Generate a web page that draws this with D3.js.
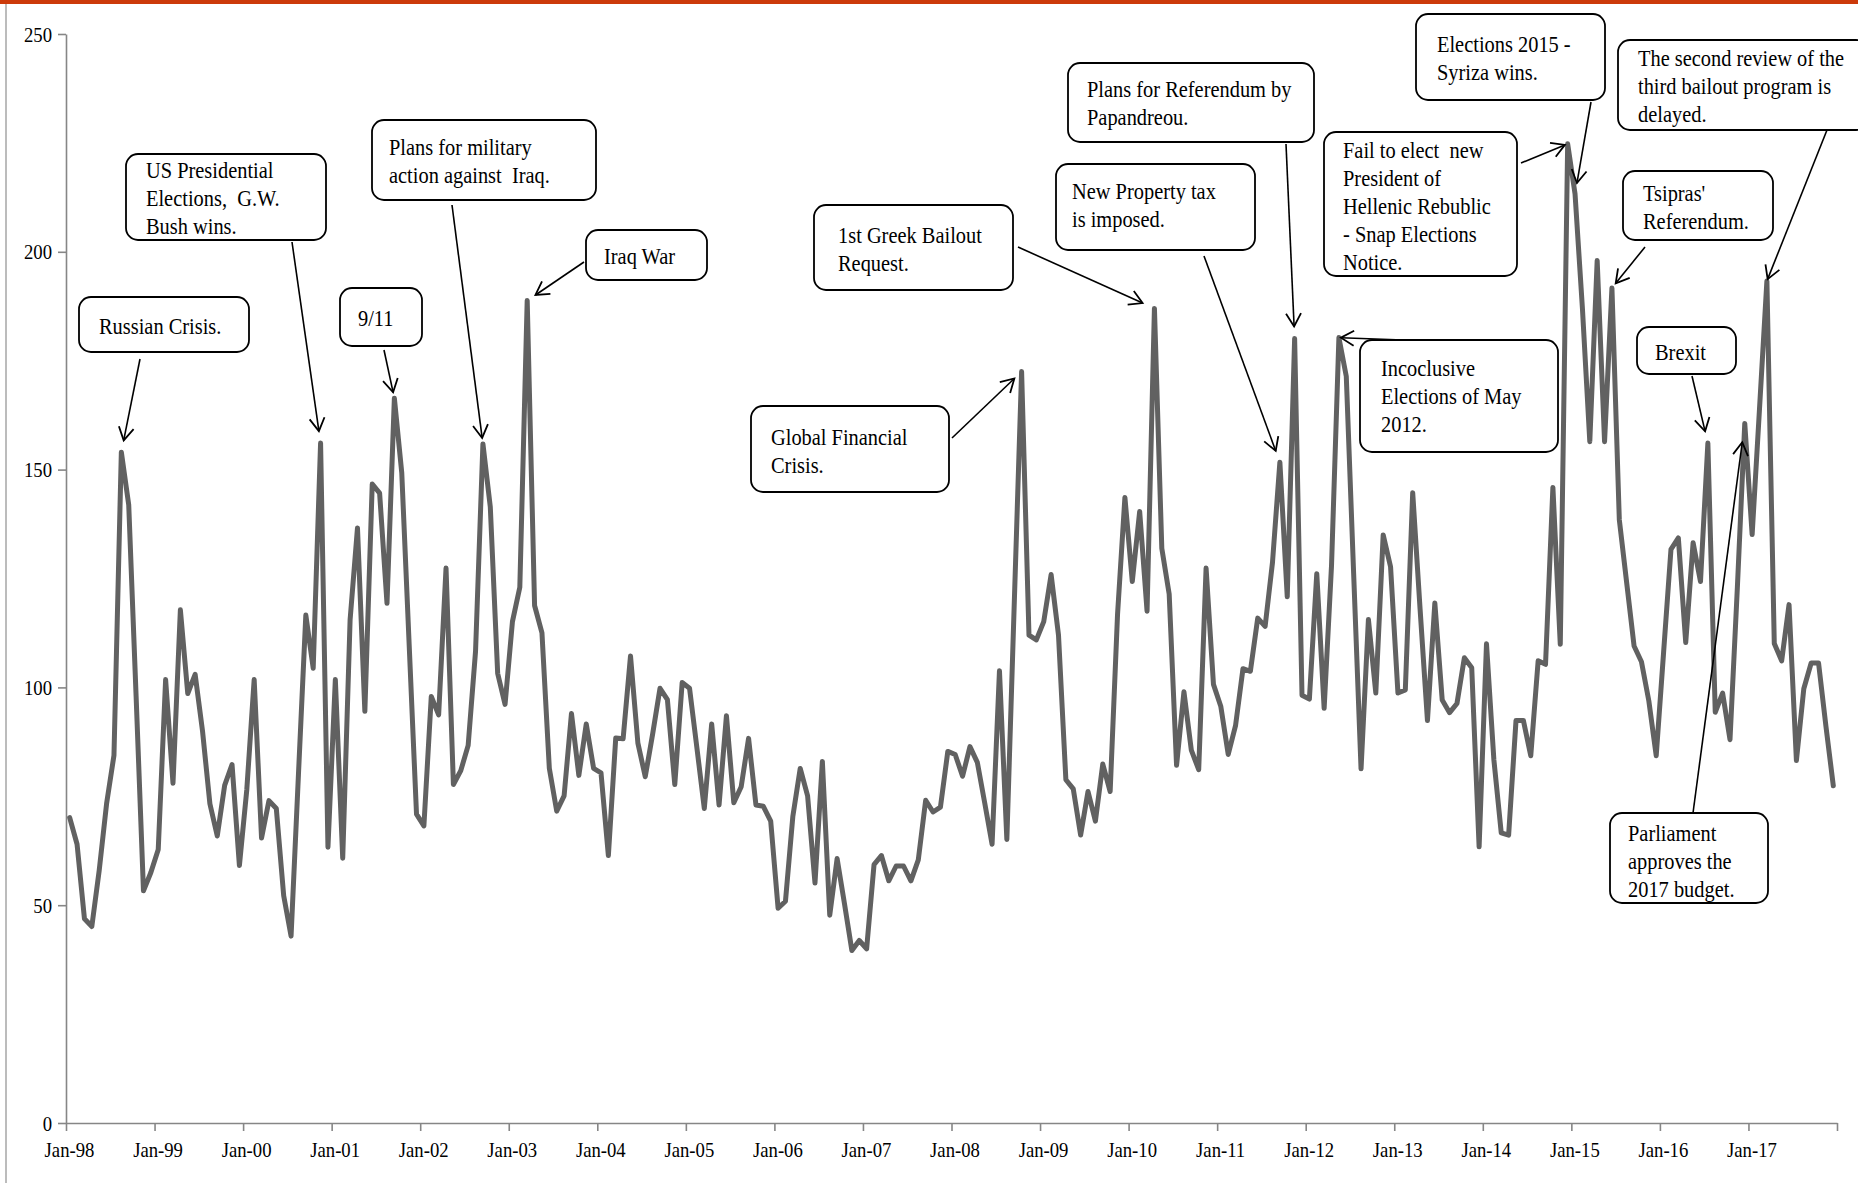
<!DOCTYPE html>
<html>
<head>
<meta charset="utf-8">
<script src="https://cdn.jsdelivr.net/npm/d3@7"></script>
<style>
  body { margin: 0; background: #fff; }
  svg { display: block; }
  text { font-family: "Liberation Serif", "Times New Roman", serif; fill: #000; }
</style>
</head>
<body>
<svg id="chart" width="1858" height="1183"></svg>
<script>
// monthly index, Jan-98 .. Dec-17
const tickLabels = ["Jan-98", "Jan-99", "Jan-00", "Jan-01", "Jan-02", "Jan-03", "Jan-04",
  "Jan-05", "Jan-06", "Jan-07", "Jan-08", "Jan-09", "Jan-10", "Jan-11", "Jan-12",
  "Jan-13", "Jan-14", "Jan-15", "Jan-16", "Jan-17"];

const yTicks = [0, 50, 100, 150, 200, 250];

const values = [
  70.1, 64.0, 46.9, 45.1, 58.0, 73.3, 84.4, 154.0, 141.9, 98, 53.3, 57.5,
  62.8, 101.8, 78.0, 117.8, 98.6, 103.0, 90, 73.3, 65.9, 77.5, 82.3, 59.1,
  76.5, 101.8, 65.4, 74.0, 72.2, 52.2, 42.9, 80, 116.6, 104.4, 156.1, 63.3,
  101.8, 60.8, 115.5, 136.6, 94.5, 146.7, 144.6, 119.3, 166.4, 149.3, 110, 70.9,
  68.2, 97.9, 93.7, 127.4, 77.7, 80.9, 86.7, 108.3, 155.9, 141.4, 103.2, 96.1,
  115.1, 123.0, 188.8, 118.8, 112.5, 81.4, 71.6, 75.1, 94.0, 79.8, 91.6, 81.4,
  80.4, 61.4, 88.4, 88.2, 107.2, 87.2, 79.5, 89.3, 99.8, 97.2, 77.7, 101.1,
  99.8, 86.1, 72.2, 91.6, 73.0, 93.5, 73.5, 77.2, 88.3, 73.0, 72.7, 69.3,
  49.3, 50.9, 70.4, 81.4, 75.1, 55.1, 83.0, 47.7, 60.7, 50.3, 39.6, 41.9,
  40.0, 59.3, 61.4, 55.6, 59.0, 59.0, 55.6, 60.4, 74.1, 71.4, 72.5, 85.3,
  84.6, 79.6, 86.4, 82.8, 73.5, 64.0, 103.8, 65.1, 119, 172.5, 112.0, 110.9,
  115.1, 125.9, 112.0, 78.8, 76.7, 66.1, 76.1, 69.3, 82.4, 76.1, 116.7, 143.6,
  124.3, 140.4, 117.5, 187.0, 131.9, 121.4, 82.1, 99.0, 85.6, 81.1, 127.4, 100.7,
  95.6, 84.6, 91.3, 104.3, 103.7, 115.9, 114.0, 128.7, 151.7, 120.8, 180.1, 98.2,
  97.3, 126.1, 95.2, 128, 180.3, 171.4, 126, 81.3, 115.6, 98.7, 135.0, 127.7,
  98.7, 99.4, 144.7, 118, 92.4, 119.4, 97.1, 94.2, 96.3, 106.8, 104.5, 63.4,
  110.0, 83.4, 66.6, 66.1, 92.4, 92.4, 84.3, 106.1, 105.3, 145.9, 109.9, 224.8,
  213.3, 187, 156.4, 198.0, 156.4, 191.7, 138.5, 124, 109.5, 105.9, 96.9, 84.3,
  108, 131.7, 134.3, 110.3, 133.2, 124.3, 156.1, 94.3, 98.7, 88.0, 123, 160.6,
  135.1, 164, 193.3, 110.1, 106.1, 119.0, 83.2, 99.7, 105.6, 105.6, 91.1, 77.4
];

// annotation texts and the month each one points at
const noteLines = [
  ["Russian Crisis."],
  ["US Presidential", "Elections,  G.W.", "Bush wins."],
  ["9/11"],
  ["Plans for military", "action against  Iraq."],
  ["Iraq War"],
  ["1st Greek Bailout", "Request."],
  ["Global Financial", "Crisis."],
  ["Plans for Referendum by", "Papandreou."],
  ["New Property tax", "is imposed."],
  ["Fail to elect  new", "President of", "Hellenic Rebublic", "- Snap Elections", "Notice."],
  ["Elections 2015 -", "Syriza wins."],
  ["Incoclusive", "Elections of May", "2012."],
  ["The second review of the", "third bailout program is", "delayed."],
  ["Tsipras'", "Referendum."],
  ["Brexit"],
  ["Parliament", "approves the", "2017 budget."]
];
const noteMonths = [7, 34, 44, 56, 62, 147, 129, 166, 164, 203, 204, 172, 230, 209, 222, 227];

// where the callouts sit on the page
const noteLayout = [
  { box: [79, 297, 170, 55], tx: 99, ty: 326, from: [140, 359], gap: 12 },
  { box: [126, 154, 200, 86], tx: 146, ty: 170, from: [292, 242], gap: 12 },
  { box: [340, 288, 82, 58], tx: 358, ty: 318, from: [384, 350], gap: 6 },
  { box: [372, 120, 224, 80], tx: 389, ty: 147, from: [452, 205], gap: 6 },
  { box: [586, 230, 121, 50], tx: 604, ty: 256, from: [584, 262], gap: 10 },
  { box: [814, 205, 199, 85], tx: 838, ty: 235, from: [1018, 247], gap: 13 },
  { box: [751, 406, 198, 86], tx: 771, ty: 437, from: [952, 438], gap: 10 },
  { box: [1068, 63, 246, 79], tx: 1087, ty: 89, from: [1286, 144], gap: 12 },
  { box: [1056, 164, 199, 86], tx: 1072, ty: 191, from: [1204, 256], gap: 12 },
  { box: [1324, 132, 193, 144], tx: 1343, ty: 150, from: [1521, 163], gap: 3 },
  { box: [1416, 14, 189, 86], tx: 1437, ty: 44, from: [1591, 102], gap: 11 },
  { box: [1360, 340, 198, 112], tx: 1381, ty: 368, from: [1403, 340], gap: 2 },
  { box: [1618, 40, 250, 90], tx: 1638, ty: 58, from: [1827, 130], gap: 2 },
  { box: [1623, 171, 150, 69], tx: 1643, ty: 193, from: [1645, 247], gap: 6 },
  { box: [1637, 327, 99, 47], tx: 1655, ty: 352, from: [1692, 376], gap: 12 },
  { box: [1610, 813, 158, 90], tx: 1628, ty: 833, from: [1693, 813], gap: 19 }
];

const svg = d3.select("#chart");
const W = 1858, H = 1183;
const plotLeft = 66, plotRight = 1837, plotTop = 34, plotBottom = 1123;
const squeeze = 0.85;  // the source text is set narrower than plain Times

svg.append("rect").attr("width", W).attr("height", H).attr("fill", "#fff");
svg.append("rect").attr("width", W).attr("height", 4).attr("fill", "#cc3a0a");
svg.append("line")
  .attr("x1", 6).attr("x2", 6).attr("y1", 4).attr("y2", H)
  .attr("stroke", "#a6a6a6").attr("stroke-width", 1.5);

const x = d3.scaleLinear().domain([0, values.length]).range([plotLeft, plotRight]);
const y = d3.scaleLinear().domain([0, 250]).range([plotBottom, plotTop]);

const axisColor = "#868686";

const yAxis = svg.append("g")
  .attr("transform", `translate(${plotLeft},0)`)
  .call(d3.axisLeft(y).tickValues(yTicks).tickSize(8).tickSizeOuter(0).tickPadding(6));

const xAxis = svg.append("g")
  .attr("transform", `translate(0,${plotBottom})`)
  .call(d3.axisBottom(x)
    .tickValues(d3.range(0, values.length + 1, 12))
    .tickSize(8).tickSizeOuter(0).tickPadding(10)
    .tickFormat(d => tickLabels[d / 12] || ""));

[yAxis, xAxis].forEach(g => {
  g.select(".domain").attr("stroke", axisColor).attr("stroke-width", 1.6);
  g.selectAll(".tick line").attr("stroke", axisColor).attr("stroke-width", 1.6);
  g.selectAll(".tick text")
    .attr("fill", "#000")
    .style("font-family", '"Liberation Serif", "Times New Roman", serif')
    .style("font-size", "22px")
    .classed("cond", true);
});
xAxis.selectAll(".tick text").attr("x", 3);

const line = d3.line()
  .x((d, i) => x(i + 0.5))
  .y(d => y(d));

svg.append("path")
  .datum(values)
  .attr("d", line)
  .attr("fill", "none")
  .attr("stroke", "#616161")
  .attr("stroke-width", 5)
  .attr("stroke-linejoin", "round")
  .attr("stroke-linecap", "round");

// callouts
const notes = svg.append("g");
noteLines.forEach((lines, k) => {
  const L = noteLayout[k];
  const m = noteMonths[k];
  const px = x(m + 0.5), py = y(values[m]);
  const [sx, sy] = L.from;
  const dx = sx - px, dy = sy - py, len = Math.hypot(dx, dy);
  const tip = [px + dx / len * L.gap, py + dy / len * L.gap];
  const ux = (tip[0] - sx) / Math.hypot(tip[0] - sx, tip[1] - sy);
  const uy = (tip[1] - sy) / Math.hypot(tip[0] - sx, tip[1] - sy);
  const head = 15, ang = Math.PI / 6;
  const arm = a => [tip[0] - head * (ux * Math.cos(a) - uy * Math.sin(a)),
                    tip[1] - head * (ux * Math.sin(a) + uy * Math.cos(a))];

  notes.append("line")
    .attr("x1", sx).attr("y1", sy).attr("x2", tip[0]).attr("y2", tip[1])
    .attr("stroke", "#000").attr("stroke-width", 1.6);
  notes.append("path")
    .attr("d", d3.line()([arm(ang), tip, arm(-ang)]))
    .attr("fill", "none").attr("stroke", "#000").attr("stroke-width", 1.8);

  const [bx, by, bw, bh] = L.box;
  notes.append("rect")
    .attr("x", bx).attr("y", by).attr("width", bw).attr("height", bh)
    .attr("rx", 12).attr("ry", 12)
    .attr("fill", "#fff").attr("stroke", "#000").attr("stroke-width", 1.8);

  lines.forEach((t, j) => {
    notes.append("text")
      .attr("x", L.tx).attr("y", L.ty + j * 28)
      .attr("dy", "0.35em")
      .style("font-size", "24px")
      .attr("xml:space", "preserve")
      .classed("cond", true)
      .text(t);
  });
});

// narrow every text around its own anchor point
svg.selectAll("text.cond").each(function () {
  const t = d3.select(this);
  const tx = +t.attr("x") || 0, ty = +t.attr("y") || 0;
  t.attr("x", 0).attr("y", 0)
    .attr("transform", `translate(${tx},${ty}) scale(${squeeze},1)`);
});
</script>
</body>
</html>
